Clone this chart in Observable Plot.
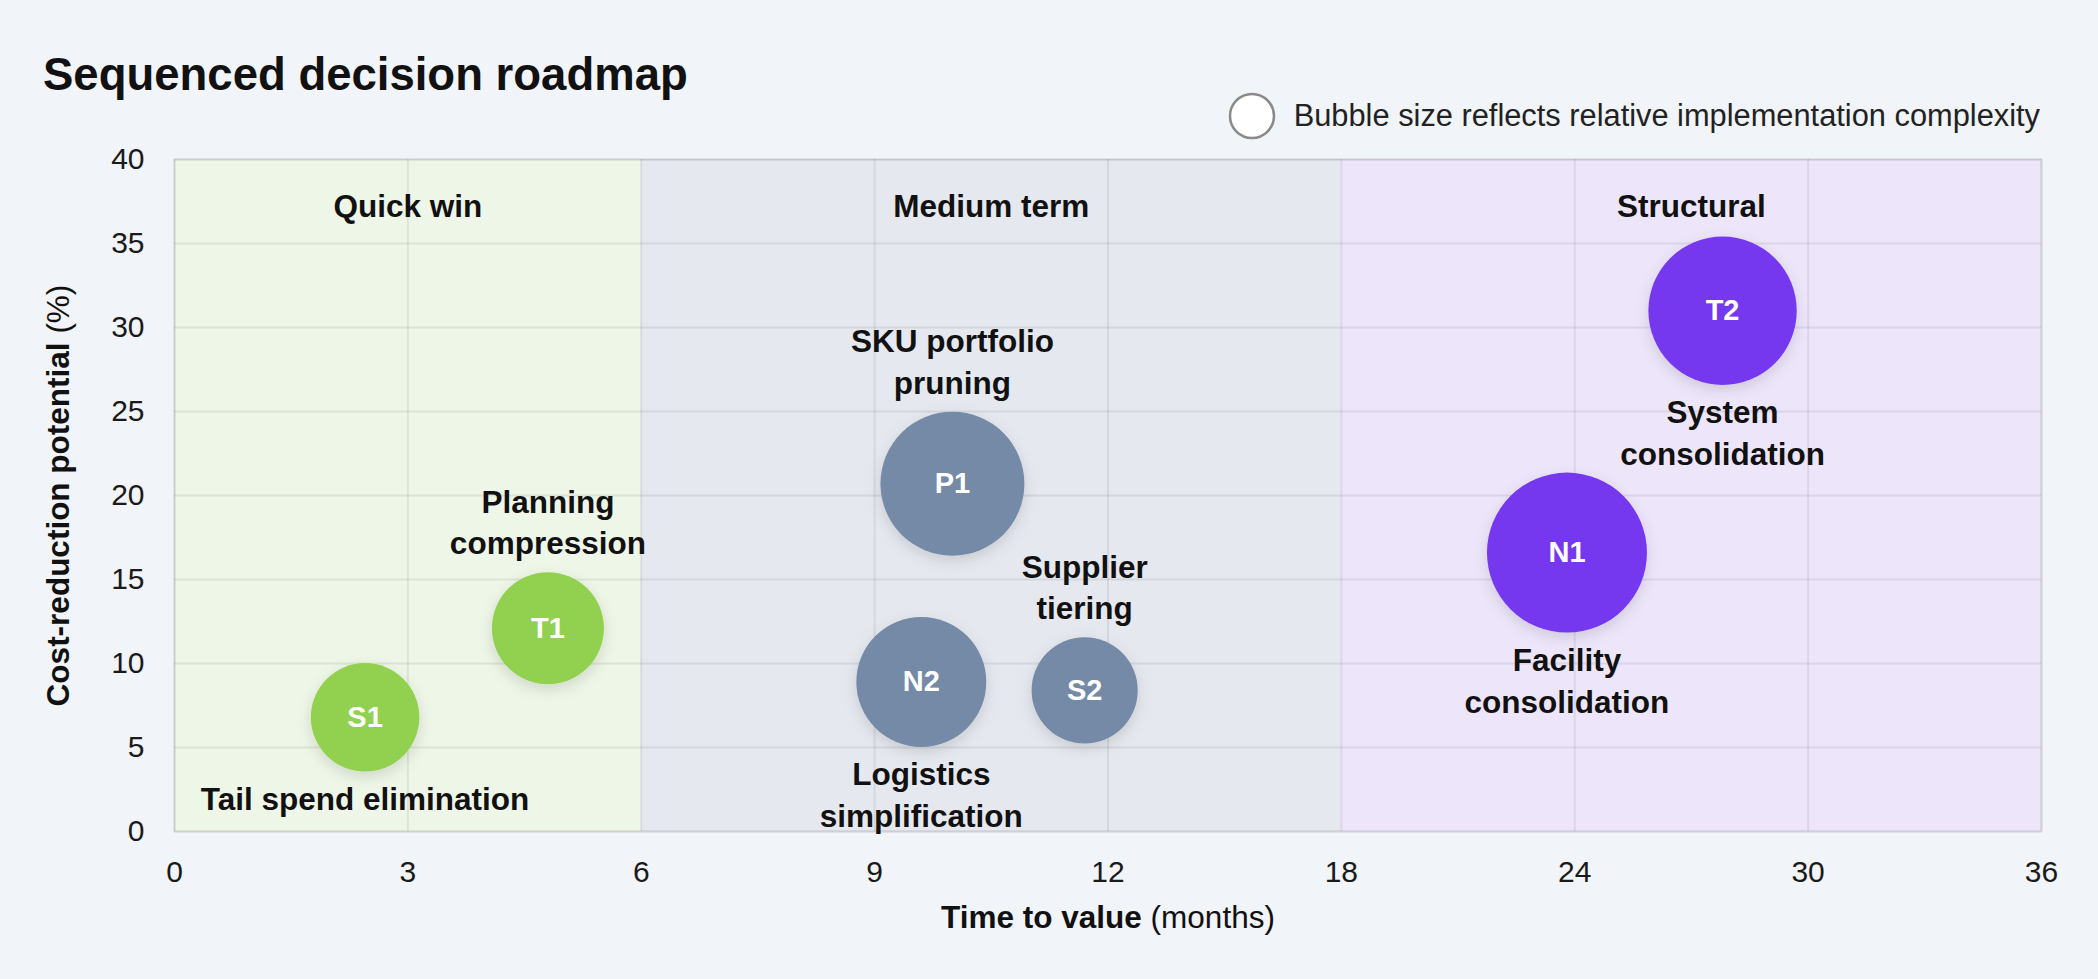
<!DOCTYPE html>
<html>
<head>
<meta charset="utf-8">
<title>Sequenced decision roadmap</title>
<script src="https://cdn.jsdelivr.net/npm/d3@7"></script>
<script src="https://cdn.jsdelivr.net/npm/@observablehq/plot@0.6"></script>
<style>
  html, body { margin: 0; padding: 0; background: #f1f4f8; }
  body {
    width: 2098px; height: 979px; overflow: hidden;
    font-family: "Liberation Sans", Arial, Helvetica, sans-serif; color: #111;
  }
  #header { position: relative; height: 140px; }
  #title {
    position: absolute; left: 43px; top: 52px;
    font-size: 45.5px; font-weight: bold; line-height: 1; color: #111;
  }
  #legend {
    position: absolute; right: 58px; top: 92px; height: 48px;
    display: flex; align-items: center; gap: 18px;
    font-size: 30.8px; color: #222;
  }
  #legend svg, #chart svg { display: block; }
</style>
</head>
<body>
<div id="header">
  <div id="title">Sequenced decision roadmap</div>
  <div id="legend">
    <svg width="48" height="48"><circle cx="24" cy="24" r="22" fill="#fff" stroke="#8a8a8a" stroke-width="2.5"></circle></svg>
    <span>Bubble size reflects relative implementation complexity</span>
  </div>
</div>
<div id="chart"></div>
<script>
// Delivery horizons (months)
const zoneNames = ["Quick win", "Medium term", "Structural"];
const zoneStart = [0, 6, 18];
const zoneEnd = [6, 18, 36];

// Initiatives
const ids = ["S1", "T1", "P1", "N2", "S2", "N1", "T2"];
const names = [
  "Tail spend elimination",
  "Planning\ncompression",
  "SKU portfolio\npruning",
  "Logistics\nsimplification",
  "Supplier\ntiering",
  "Facility\nconsolidation",
  "System\nconsolidation"
];
const months = [2.45, 4.8, 10, 9.6, 11.7, 23.8, 27.8];      // time to value
const saving = [6.8, 12.1, 20.7, 8.9, 8.4, 16.6, 31.0];     // cost-reduction potential, %
const complexity = [4.6, 4.9, 8.1, 6.6, 4.4, 10, 8.6];      // relative implementation complexity
const phase = ["Quick win", "Quick win", "Medium term", "Medium term", "Medium term", "Structural", "Structural"];
const labelSide = ["below", "above", "above", "below", "above", "below", "below"];

// Axes
const xTicks = [0, 3, 6, 9, 12, 18, 24, 30, 36];
const yTicks = [0, 5, 10, 15, 20, 25, 30, 35, 40];
const xTitleParts = ["Time to value", " (months)"];
const yTitleParts = ["Cost-reduction potential", " (%)"];

// Styling
const zoneFill = { "Quick win": "#eef6e7", "Medium term": "#e5e8ee", "Structural": "#ede6fb" };
const bubbleFill = { "Quick win": "#92d050", "Medium term": "#758aa6", "Structural": "#7639ef" };
const font = "'Liberation Sans', Arial, Helvetica, sans-serif";

// Piecewise time axis: the first year takes half of the width
const xDomain = [0, 12, 36];
const rDomain = [0, 10];
const rRange = [0, 80];

const zones = zoneNames.map((name, i) => ({ name, start: zoneStart[i], end: zoneEnd[i] }));
const items = ids.map((id, i) => ({
  id, name: names[i], months: months[i], saving: saving[i],
  complexity: complexity[i], phase: phase[i], side: labelSide[i]
}));

// Centre of each zone, measured along the piecewise axis
const toUnit = d3.scaleLinear(xDomain, [0, 0.5, 1]);
const zoneMid = (z) => toUnit.invert((toUnit(z.start) + toUnit(z.end)) / 2);
const radius = d3.scaleSqrt(rDomain, rRange);

const nameMarks = items.map((d) =>
  Plot.text([d], {
    x: "months",
    y: "saving",
    text: "name",
    fill: "#111",
    fontWeight: "bold",
    fontSize: 31.5,
    lineHeight: 1.32,
    lineAnchor: d.side === "above" ? "bottom" : "top",
    dy: d.side === "above" ? -(radius(d.complexity) + 18) : radius(d.complexity) + 9
  })
);

const chart = Plot.plot({
  width: 2098,
  height: 839,
  marginLeft: 174,
  marginRight: 57,
  marginTop: 19,
  marginBottom: 148,
  style: { background: "transparent", fontFamily: font, fontSize: "30px", color: "#1a1a1a", overflow: "visible" },
  x: { type: "linear", domain: xDomain },
  y: { type: "linear", domain: [0, 40] },
  r: { type: "sqrt", domain: rDomain, range: rRange },
  color: { type: "identity" },
  marks: [
    Plot.rect(zones, { x1: "start", x2: "end", y1: 0, y2: 40, fill: (d) => zoneFill[d.name] }),
    Plot.gridX(xTicks, { stroke: "#000", strokeOpacity: 0.07, strokeWidth: 2 }),
    Plot.gridY(yTicks, { stroke: "#000", strokeOpacity: 0.07, strokeWidth: 2 }),
    Plot.frame({ stroke: "#000", strokeOpacity: 0.08, strokeWidth: 2 }),
    Plot.axisX({ ticks: xTicks, tickSize: 0, tickPadding: 29, label: null, tickFormat: (d) => String(d) }),
    Plot.axisY({ ticks: yTicks, tickSize: 0, tickPadding: 30, label: null, tickFormat: (d) => String(d) }),
    Plot.text(zones, { x: zoneMid, frameAnchor: "top", dy: 35, text: "name", fill: "#111", fontWeight: "bold", fontSize: 31.5 }),
    Plot.dot(items, { x: "months", y: "saving", r: "complexity", fill: (d) => bubbleFill[d.phase] }),
    Plot.text(items, { x: "months", y: "saving", text: "id", fill: "white", fontWeight: "bold", fontSize: 29 }),
    ...nameMarks,
    Plot.text([xTitleParts.join("")], { frameAnchor: "bottom", dy: 96, text: (d) => d, fill: "#111", fontSize: 31.5 }),
    Plot.text([yTitleParts.join("")], { frameAnchor: "left", textAnchor: "middle", lineAnchor: "middle", dx: -116, rotate: -90, text: (d) => d, fill: "#111", fontSize: 31.5 })
  ]
});

document.getElementById("chart").appendChild(chart);

// Soft drop shadow under the bubbles
const svg = d3.select(chart);
const filter = svg.insert("defs", ":first-child")
  .append("filter")
  .attr("id", "bubble-shadow")
  .attr("x", "-40%").attr("y", "-40%")
  .attr("width", "180%").attr("height", "180%");
filter.append("feDropShadow")
  .attr("dx", 0).attr("dy", 5)
  .attr("stdDeviation", 7)
  .attr("flood-color", "#000")
  .attr("flood-opacity", 0.13);
svg.selectAll("circle").attr("filter", "url(#bubble-shadow)");

// Axis titles: bold name followed by the unit in regular weight
function splitTitle(parts) {
  const full = parts.join("");
  svg.selectAll("text").filter(function () { return this.textContent === full; }).each(function () {
    const t = d3.select(this);
    t.text(null);
    t.append("tspan").attr("font-weight", "bold").text(parts[0]);
    t.append("tspan").attr("font-weight", "normal").text(parts[1]);
  });
}
splitTitle(xTitleParts);
splitTitle(yTitleParts);
</script>
</body>
</html>
